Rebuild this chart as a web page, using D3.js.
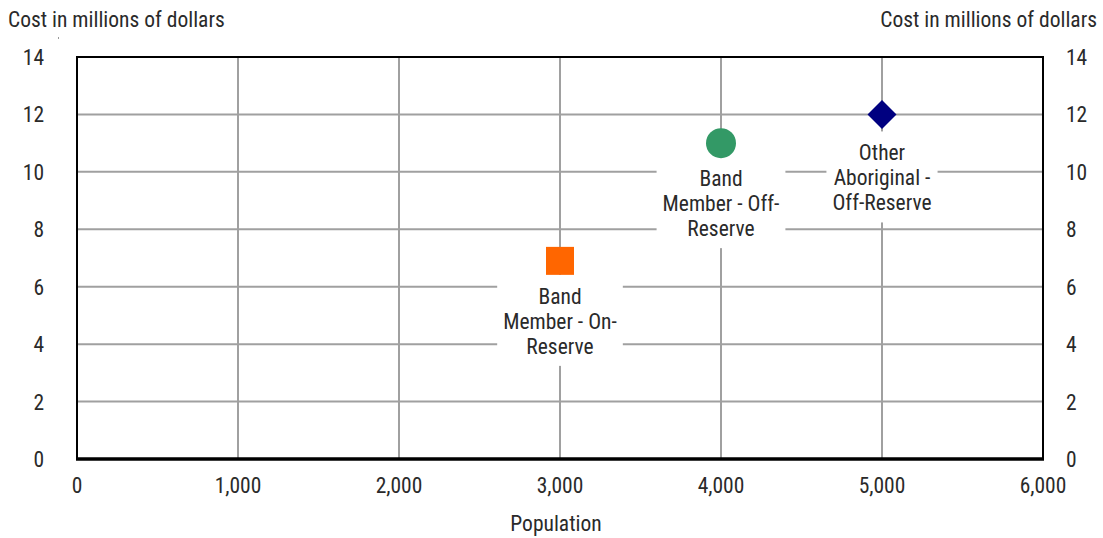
<!DOCTYPE html>
<html><head><meta charset="utf-8">
<script src="https://cdn.jsdelivr.net/npm/d3@7"></script>
<style>
body{margin:0;background:#fff;}
text{font-family:"Liberation Sans Narrow","Roboto Condensed","Arial Narrow",Roboto,sans-serif;fill:#2a2a2a;}
</style></head><body>
<svg id="c" width="1103" height="538"></svg>
<script>
const categories = ["Band Member - On-Reserve","Band Member - Off-Reserve","Other Aboriginal - Off-Reserve"];
const labelLines = [["Band","Member - On-","Reserve"],["Band","Member - Off-","Reserve"],["Other","Aboriginal -","Off-Reserve"]];
const population = [3000, 4000, 5000];
const cost = [6.9, 11, 12];
const colors = ["#ff6600","#339966","#000080"];
const shapes = ["square","circle","diamond"];
const xTicks = [0,1000,2000,3000,4000,5000,6000];
const yTicks = [0,2,4,6,8,10,12,14];

const svg = d3.select("#c");
const FS = "21.5px";
const m = {l:77, r:1043, t:57, b:459};
const x = d3.scaleLinear().domain([0,6000]).range([m.l,m.r]);
const y = d3.scaleLinear().domain([0,14]).range([m.b,m.t]);

// gridlines
svg.append("g").selectAll("line").data(xTicks.slice(1,-1)).join("line")
  .attr("x1",d=>x(d)).attr("x2",d=>x(d)).attr("y1",m.t).attr("y2",m.b)
  .attr("stroke","#a0a0a0").attr("stroke-width",2);
svg.append("g").selectAll("line").data(yTicks.slice(1,-1)).join("line")
  .attr("y1",d=>y(d)).attr("y2",d=>y(d)).attr("x1",m.l).attr("x2",m.r)
  .attr("stroke","#a0a0a0").attr("stroke-width",2);

// label backgrounds and labels
const lh = 25;
const offs = [43, 43, 46];
const lg = svg.append("g");
categories.forEach((c,i)=>{
  const cx = x(population[i]), cy = y(cost[i]);
  const g = lg.append("g");
  const t = g.append("text").attr("text-anchor","middle").style("font-size",FS);
  labelLines[i].forEach((ln,j)=>{
    t.append("tspan").attr("x",cx).attr("y",cy+offs[i]+j*lh).text(ln);
  });
  const bb = t.node().getBBox();
  g.insert("rect","text").attr("x",bb.x-6).attr("y",bb.y-9).attr("width",bb.width+12).attr("height",bb.height+16).attr("fill","#fff");
});

// markers
const sq = 28, r = 15, dd = 14.5;
const markerPath = (s)=>{
  if(s==="square") return `M${-sq/2},${-sq/2}h${sq}v${sq}h${-sq}Z`;
  if(s==="circle") return d3.symbol().type(d3.symbolCircle).size(Math.PI*r*r)();
  return `M0,${-dd}L${dd},0L0,${dd}L${-dd},0Z`;
};
svg.append("g").selectAll("path").data(categories).join("path")
  .attr("transform",(d,i)=>`translate(${x(population[i])},${y(cost[i])})`)
  .attr("d",(d,i)=>markerPath(shapes[i]))
  .attr("fill",(d,i)=>colors[i]);

// frame
svg.append("path").attr("d",`M${m.l},${m.b}V${m.t}H${m.r}V${m.b}`).attr("fill","none").attr("stroke","#000").attr("stroke-width",2);
svg.append("line").attr("x1",m.l-1).attr("x2",m.r+1).attr("y1",m.b).attr("y2",m.b).attr("stroke","#000").attr("stroke-width",3.5);

// axes text
const fmt = d3.format(",");
svg.append("g").selectAll("text").data(xTicks).join("text")
  .attr("x",d=>x(d)).attr("y",493).attr("text-anchor","middle").style("font-size",FS).text(d=>fmt(d));
svg.append("g").selectAll("text").data(yTicks).join("text")
  .attr("x",44).attr("y",d=>y(d)+8).attr("text-anchor","end").style("font-size",FS).text(d=>d);
svg.append("g").selectAll("text").data(yTicks).join("text")
  .attr("x",1066).attr("y",d=>y(d)+8).attr("text-anchor","start").style("font-size",FS).text(d=>d);

svg.append("text").attr("x",8).attr("y",27).style("font-size",FS).text("Cost in millions of dollars");
svg.append("text").attr("x",1097).attr("y",27).attr("text-anchor","end").style("font-size",FS).text("Cost in millions of dollars");
svg.append("text").attr("x",556).attr("y",531).attr("text-anchor","middle").style("font-size",FS).text("Population");
svg.append("rect").attr("x",58).attr("y",37).attr("width",1).attr("height",2).attr("fill","#999");
</script></body></html>
